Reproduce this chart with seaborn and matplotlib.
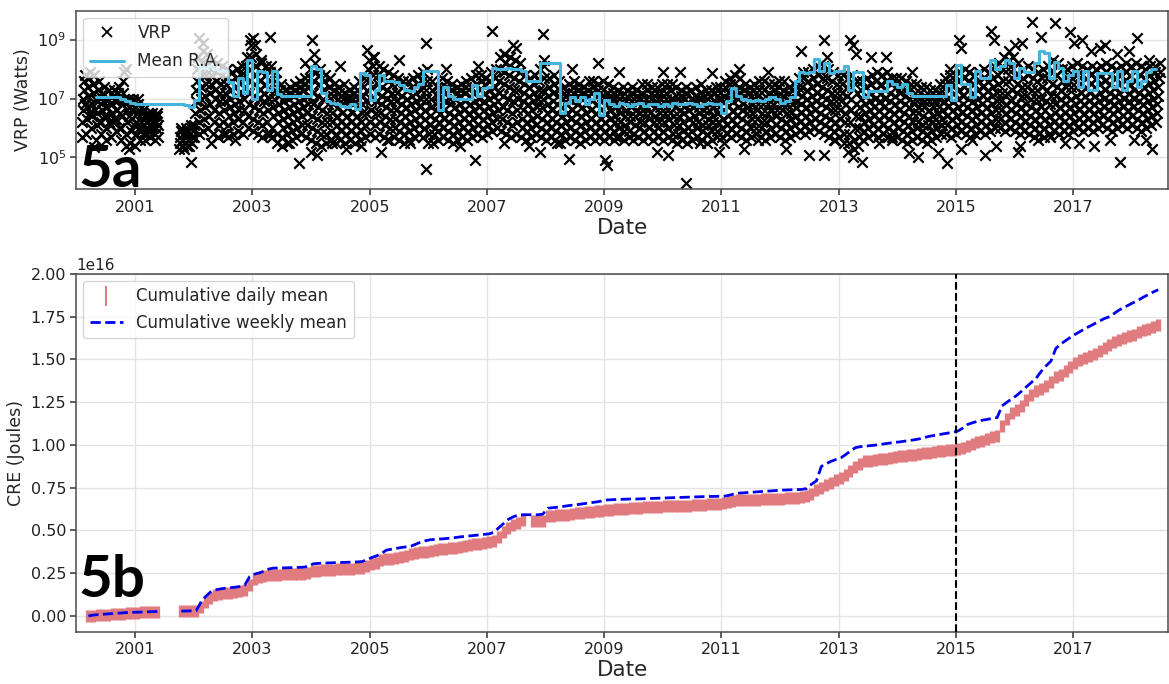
import numpy as np
import pandas as pd
import matplotlib
matplotlib.use("Agg")
import matplotlib.pyplot as plt
import matplotlib.dates as mdates
from matplotlib.ticker import FixedLocator, NullLocator, LogFormatterMathtext
from matplotlib.lines import Line2D
import seaborn as sns

nan = np.nan

# ---------------- Panel 5a: VRP observations (log10(W) x 10), 8 per month ----------------
VRP_DAYS = [2, 5, 9, 12, 16, 19, 23, 26]

vrp_2000 = """
02: 57 62 66 70 73 76 78 68
03: 58 63 67 71 74 77 79 65
04: 60 64 68 72 75 78 66 70
05: 56 61 65 69 73 76 62 71
06: 58 62 66 69 72 74 64 67
07: 56 60 64 67 70 73 62 68
08: 57 61 65 68 71 73 63 69
09: 59 63 66 69 72 74 60 65
10: 56 60 64 68 72 76 79 70
11: 54 58 62 66 69 70 64 67
12: 55 59 63 66 69 70 61 67
"""
vrp_2001 = """
01: 54 58 62 65 68 70 60 66
02: 56 59 62 65 66 58 61 64
03: 56 58 60 62 64 65 59 63
04: 57 59 61 63 65 60 62 64
05: 56 58 60 62 64 65 57 61
06: -
07: -
08: -
09: -
10: 53 55 57 59 60 56 54 58
11: 53 55 57 58 60 54 56 59
12: 54 56 58 60 61 55 57 59
"""
vrp_2002 = """
01: 57 61 65 69 73 76 80 84
02: 58 62 66 70 74 78 82 86
03: 59 63 67 71 75 78 81 85
04: 60 64 68 72 75 78 80 83
05: 58 62 66 70 73 76 79 82
06: 57 61 65 69 72 75 78 81
07: 58 62 66 69 72 75 77 80
08: 57 61 64 67 70 73 76 79
09: 58 62 65 68 71 74 77 80
10: 59 63 66 69 72 75 78 81
11: 58 62 66 70 74 78 81 84
12: 60 64 68 72 76 80 84 88
"""
vrp_2003 = """
01: 59 63 67 71 75 78 81 85
02: 58 62 66 70 73 76 79 82
03: 57 61 65 69 72 75 78 81
04: 58 62 66 70 73 76 79 81
05: 57 60 64 67 70 73 76 79
06: 55 58 62 65 68 71 73 75
07: 54 57 60 63 66 69 71 73
08: 55 58 61 64 67 70 72 74
09: 56 59 62 65 68 71 73 75
10: 57 60 63 66 69 72 74 76
11: 58 61 64 67 70 73 75 77
12: 57 61 65 68 71 74 77 80
"""
vrp_2004 = """
01: 56 60 64 68 72 76 79 82
02: 55 59 63 67 71 75 78 80
03: 54 58 62 66 70 73 76 78
04: 55 58 62 65 68 71 74 77
05: 56 59 62 65 68 71 73 75
06: 55 58 61 64 67 70 72 74
07: 56 59 62 65 68 70 72 75
08: 55 58 61 64 67 69 71 73
09: 56 59 62 65 68 70 72 74
10: 55 58 61 64 67 70 73 76
11: 56 59 62 65 68 71 74 77
12: 57 61 65 69 73 77 80 83
"""
vrp_2005 = """
01: 58 62 66 70 74 78 81 84
02: 57 61 65 69 72 75 78 81
03: 58 62 65 68 71 74 77 80
04: 57 61 64 67 70 73 76 79
05: 56 60 63 66 69 72 75 78
06: 57 60 63 66 69 72 75 77
07: 56 59 62 65 68 71 74 76
08: 55 58 61 64 67 70 73 76
09: 56 59 62 65 68 71 74 77
10: 57 60 63 66 69 72 75 78
11: 58 61 64 67 70 73 76 79
12: 57 60 63 66 70 73 76 80
"""
vrp_2006 = """
01: 55 58 61 64 67 70 73 76
02: 55 58 60 63 66 68 71 74
03: 56 59 62 65 68 71 74 77
04: 57 60 63 66 69 72 74 76
05: 56 59 62 65 68 70 73 75
06: 55 58 61 64 67 70 72 74
07: 56 59 62 65 68 71 73 75
08: 57 60 63 66 69 72 74 76
09: 56 59 62 65 68 71 74 77
10: 57 60 63 66 69 72 75 78
11: 58 61 64 67 70 73 76 78
12: 57 60 63 66 69 72 75 77
"""
vrp_2007 = """
01: 58 61 64 67 70 73 76 79
02: 59 62 65 68 71 74 77 80
03: 60 63 66 69 72 76 80 84
04: 59 63 67 71 75 79 82 85
05: 58 62 66 70 74 78 81 84
06: 57 61 65 69 73 77 80 83
07: 58 62 66 70 73 76 79 82
08: 57 60 63 66 69 72 75 78
09: 56 59 62 65 68 71 74 77
10: 57 60 63 66 69 72 75 78
11: 58 61 64 67 70 73 76 80
12: 57 60 63 67 70 73 77 81
"""
vrp_2008 = """
01: 56 59 62 65 68 71 74 77
02: 57 60 63 66 69 72 75 78
03: 56 59 62 65 68 71 73 76
04: 55 58 61 64 67 70 72 74
05: 56 59 62 65 68 70 72 75
06: 57 60 63 66 69 72 74 76
07: 56 59 62 65 68 71 73 75
08: 55 58 61 64 67 70 72 74
09: 56 59 62 65 68 71 73 76
10: 57 60 63 66 69 72 74 76
11: 56 59 62 65 68 71 73 75
12: 57 60 63 66 69 71 73 76
"""
vrp_2009 = """
01: 56 59 62 65 68 70 72 75
02: 57 60 63 66 68 70 72 74
03: 56 59 62 64 67 69 71 73
04: 57 60 62 65 67 69 71 74
05: 56 59 61 64 66 69 71 73
06: 57 59 62 64 67 69 72 74
07: 56 58 61 64 66 69 71 73
08: 57 60 62 65 67 70 72 75
09: 56 59 62 65 67 70 73 75
10: 57 60 63 65 68 70 72 74
11: 56 59 62 64 67 69 72 74
12: 57 60 62 65 67 70 72 75
"""
vrp_2010 = """
01: 56 59 62 65 68 70 72 75
02: 57 60 63 65 68 70 73 75
03: 56 58 61 64 67 69 71 74
04: 55 58 61 64 66 69 71 73
05: 56 59 62 65 67 70 72 74
06: 55 58 60 63 66 68 70 73
07: 56 59 62 64 67 69 71 74
08: 57 60 62 65 67 70 72 75
09: 56 59 61 64 66 69 71 73
10: 55 58 61 63 66 68 71 73
11: 56 59 62 64 67 69 72 74
12: 57 59 62 65 67 70 72 74
"""
vrp_2011 = """
01: 57 60 63 66 69 71 74 76
02: 58 61 64 67 70 72 75 77
03: 57 60 63 66 69 72 75 78
04: 58 61 64 67 70 72 74 77
05: 57 60 63 66 68 71 73 75
06: 56 59 62 65 67 70 72 74
07: 57 60 63 65 68 70 73 75
08: 58 60 63 66 68 71 73 76
09: 57 60 62 65 68 70 73 76
10: 56 59 62 65 68 70 72 75
11: 57 60 63 66 68 71 73 75
12: 58 61 64 66 69 71 74 76
"""
vrp_2012 = """
01: 57 60 63 66 68 71 73 76
02: 56 59 62 65 68 70 72 74
03: 57 60 63 65 68 70 73 75
04: 58 61 64 67 69 72 74 77
05: 59 62 65 68 71 74 77 79
06: 58 61 64 67 70 73 76 79
07: 59 62 65 68 71 74 77 80
08: 60 63 66 69 72 75 78 81
09: 59 62 65 68 71 74 77 81
10: 58 61 64 67 70 73 77 80
11: 57 60 63 66 69 72 76 79
12: 56 59 62 66 69 72 75 78
"""
vrp_2013 = """
01: 57 60 63 66 69 72 75 78
02: 55 58 62 65 68 71 74 77
03: 52 55 58 62 66 70 74 78
04: 50 53 56 60 64 68 72 76
05: 54 57 60 64 67 70 73 76
06: 56 59 62 65 68 71 74 77
07: 57 60 63 66 69 72 75 78
08: 58 61 64 67 70 73 76 79
09: 57 60 63 66 69 72 75 78
10: 58 61 64 67 70 73 76 79
11: 57 60 63 66 69 72 75 77
12: 56 59 62 65 68 71 74 77
"""
vrp_2014 = """
01: 57 60 63 66 69 72 74 77
02: 56 59 62 65 68 71 73 76
03: 55 58 61 64 67 70 73 75
04: 56 59 62 65 68 70 72 75
05: 57 60 62 65 67 70 72 74
06: 56 59 61 64 67 69 71 74
07: 55 58 61 63 66 69 71 73
08: 56 59 62 64 67 69 71 73
09: 57 60 62 65 67 70 72 75
10: 58 61 63 66 69 72 75 77
11: 58 61 64 67 70 73 75 78
12: 57 60 63 66 69 72 75 78
"""
vrp_2015 = """
01: 58 61 64 67 70 73 76 79
02: 59 62 65 68 71 74 77 80
03: 58 61 64 67 70 73 76 79
04: 57 60 63 66 69 72 75 78
05: 58 61 64 67 70 73 76 79
06: 59 62 65 68 71 74 77 80
07: 58 61 64 67 70 73 76 79
08: 59 62 65 68 71 74 77 81
09: 60 63 66 69 72 75 78 82
10: 60 63 66 69 72 76 80 84
11: 59 62 65 68 72 76 80 83
12: 60 63 66 69 73 77 80 84
"""
vrp_2016 = """
01: 59 62 65 68 72 75 78 82
02: 58 61 64 67 71 74 77 80
03: 59 62 65 68 71 74 78 81
04: 58 61 64 67 70 73 77 80
05: 57 60 63 66 70 73 76 79
06: 58 61 64 67 70 74 77 80
07: 57 60 63 66 69 73 77 81
08: 58 61 64 68 71 75 79 83
09: 59 62 65 68 71 74 78 82
10: 58 61 64 67 70 73 76 80
11: 59 62 65 68 71 74 77 80
12: 58 61 64 67 70 74 77 81
"""
vrp_2017 = """
01: 59 62 65 68 71 74 78 82
02: 60 63 66 69 72 75 78 81
03: 59 62 65 68 71 74 77 80
04: 60 63 66 69 72 75 78 81
05: 59 62 65 68 71 74 77 80
06: 60 63 66 69 72 75 78 81
07: 61 64 67 70 73 76 79 82
08: 60 63 66 69 72 75 78 81
09: 59 62 65 68 71 74 77 80
10: 60 63 66 69 72 75 78 81
11: 61 64 67 70 73 76 79 82
12: 60 63 66 69 72 75 78 81
"""
vrp_2018 = """
01: 61 64 67 70 73 76 79 82
02: 60 63 66 69 72 75 78 81
03: 59 62 65 68 71 74 77 80
04: 60 63 66 69 72 75 78 81
05: 61 64 67 70 73 76 79 81
06: 62 65 68 71 74 77 79 82
"""

vrp_outlier_dates = [
    "2000-11-05", "2002-02-05", "2002-02-25", "2002-12-15", "2003-01-03", "2003-01-20",
    "2003-04-20", "2003-02-25", "2003-11-25", "2004-01-08", "2004-01-20", "2004-07-01",
    "2004-12-15", "2005-01-20", "2005-07-01", "2005-12-15", "2006-04-20", "2006-11-05",
    "2007-02-05", "2007-04-20", "2007-06-15", "2007-07-01", "2007-12-15", "2007-12-22",
    "2008-06-15", "2008-11-25", "2009-04-01", "2010-01-05", "2010-04-20", "2010-11-05",
    "2011-04-20", "2011-10-20", "2012-05-08", "2012-10-01", "2012-10-20", "2013-03-15",
    "2013-04-01", "2013-04-20", "2013-07-20", "2013-10-20", "2014-04-01", "2014-11-25",
    "2015-01-20", "2015-02-05", "2015-08-08", "2015-08-25", "2015-11-25", "2016-01-03",
    "2016-02-15", "2016-04-20", "2016-06-15", "2016-09-10", "2016-12-15", "2017-01-03",
    "2017-02-25", "2017-04-20", "2017-06-15", "2017-07-20", "2017-10-01", "2017-12-15",
    "2018-02-05", "2018-04-20",
    "2000-04-20", "2000-11-25", "2001-12-15", "2002-04-20", "2002-07-20", "2003-04-20",
    "2003-10-20", "2004-01-03", "2004-02-05", "2004-08-08", "2004-11-05", "2005-03-15",
    "2005-04-20", "2005-12-15", "2006-10-20", "2007-04-20", "2007-11-25", "2008-05-25",
    "2009-01-03", "2009-01-20", "2009-11-25", "2010-02-05", "2010-05-25", "2010-12-15",
    "2011-05-25", "2012-02-05", "2012-07-01", "2012-10-01", "2013-05-25", "2013-09-10",
    "2014-03-15", "2014-05-08", "2014-09-10", "2014-11-05", "2015-02-05", "2015-07-01",
    "2015-09-10", "2016-01-20", "2016-02-05", "2016-05-25", "2017-02-05", "2017-05-08",
    "2017-10-20", "2018-04-01", "2018-05-08",
    "2002-09-15", "2003-08-15", "2005-09-10", "2006-07-15", "2008-03-10", "2009-03-15",
    "2010-08-20", "2011-08-15", "2012-12-10", "2013-12-01", "2015-04-10", "2016-08-10",
    "2017-08-20", "2018-01-15", "2004-05-10", "2011-01-20", "2007-09-20", "2016-11-10",
]
vrp_outlier_log10 = [
    8.0, 9.05, 8.9, 9.0, 9.05, 8.8, 9.1, 8.3, 8.2, 9.0, 8.5, 8.1,
    8.65, 8.4, 8.3, 8.9, 8.0, 8.1, 9.3, 8.5, 8.8, 8.7, 9.2, 8.3,
    8.0, 8.2, 7.9, 7.9, 7.9, 7.85, 8.0, 7.9, 8.6, 9.0, 8.4, 9.0,
    8.8, 8.5, 8.4, 8.4, 7.9, 8.0, 9.0, 8.7, 9.3, 9.0, 8.6, 8.8,
    8.9, 9.6, 9.1, 9.55, 9.25, 8.9, 9.0, 8.6, 8.7, 8.8, 8.5, 8.6,
    9.05, 8.3,
    5.35, 5.3, 4.85, 5.5, 5.8, 5.8, 4.8, 5.2, 5.1, 5.3, 5.4, 5.2,
    5.6, 4.6, 4.9, 5.5, 5.2, 4.95, 4.9, 4.75, 5.2, 5.1, 4.15, 5.2,
    5.3, 5.3, 5.1, 5.1, 4.85, 5.5, 5.15, 5.0, 5.15, 4.8, 5.3, 5.1,
    5.4, 5.2, 5.4, 5.6, 5.5, 5.4, 4.85, 5.6, 5.3,
    5.6, 5.5, 5.5, 5.4, 5.5, 5.7, 5.5, 5.6, 5.6, 5.7, 5.6, 5.7,
    5.6, 5.6, 5.5, 5.5, 5.4, 5.5,
]

# Mean running average (log10 W), monthly from 2000-05
ra_2000_2005 = [
    7.05, 7.05, 7.05, 7.05, 7.05, 7.0, 6.9, 6.85,
    6.82, 6.8, 6.8, 6.8, 6.8, 6.8, 6.8, 6.8, 6.8, 6.8, 6.78, 6.72,
    6.95, 8.1, 8.05, 8.1, 8.0, 7.95, 7.95, 7.55, 7.1, 7.7, 7.2, 8.3,
    7.0, 7.95, 7.9, 7.3, 7.95, 7.15, 7.1, 7.1, 7.1, 7.1, 7.1, 7.1,
    8.1, 8.0, 7.2, 6.9, 6.85, 6.8, 6.75, 6.7, 6.8, 6.65, 7.85, 7.8,
    6.95, 7.3, 7.8, 7.6, 7.6, 7.55, 7.45, 7.3, 7.25, 7.4, 7.5, 7.95,
]
ra_2006_2011 = [
    7.95, 7.95, 6.6, 7.4, 7.1, 7.0, 7.0, 7.0, 7.0, 7.45, 7.1, 7.35,
    7.4, 8.05, 8.0, 8.0, 8.05, 8.0, 8.0, 7.95, 7.6, 7.6, 7.6, 8.2,
    8.2, 8.2, 8.2, 6.5, 6.85, 7.05, 6.9, 7.05, 6.8, 7.0, 7.2, 6.45,
    6.95, 6.8, 6.75, 6.85, 6.8, 6.75, 6.8, 6.85, 6.75, 6.8, 6.8, 6.75,
    6.8, 6.75, 6.85, 6.8, 6.8, 6.85, 6.8, 6.75, 6.8, 6.85, 6.8, 6.8,
    6.5, 6.9, 7.35, 7.1, 7.0, 6.95, 6.9, 6.95, 6.9, 7.0, 7.05, 7.0,
]
ra_2012_2018 = [
    6.85, 6.9, 7.05, 7.6, 7.9, 7.85, 7.9, 8.35, 7.95, 8.2, 7.85, 7.95,
    7.95, 8.1, 7.3, 7.9, 7.9, 7.05, 7.25, 7.25, 7.25, 7.25, 7.6, 7.5,
    7.4, 7.5, 7.2, 7.1, 7.1, 7.1, 7.1, 7.1, 7.1, 7.1, 7.45, 6.95,
    8.15, 7.5, 7.5, 7.05, 7.95, 7.7, 7.7, 8.3, 8.0, 8.1, 8.3, 8.2,
    7.7, 8.05, 7.9, 7.9, 8.2, 8.6, 8.55, 7.7, 8.25, 8.05, 7.6, 7.8,
    7.95, 7.4, 7.95, 7.3, 7.3, 7.85, 7.85, 7.85, 7.4, 7.95, 7.3, 7.6,
    7.95, 7.4, 7.6, 7.9, 8.0, 8.0,
]

# ---------------- Panel 5b: cumulative energy (units of 1e16 J), monthly from 2000-02 ----------------
daily_2000_2005 = [
    nan, 0.000, 0.002, 0.004, 0.006, 0.008, 0.010, 0.012, 0.014, 0.016, 0.018,
    0.020, 0.021, 0.022, 0.023, 0.024, nan, nan, nan, nan, 0.026, 0.027, 0.028,
    0.030, 0.050, 0.080, 0.105, 0.123, 0.130, 0.134, 0.137, 0.140, 0.143, 0.150, 0.180,
    0.215, 0.225, 0.232, 0.240, 0.241, 0.242, 0.243, 0.244, 0.245, 0.246, 0.247, 0.250,
    0.262, 0.264, 0.266, 0.268, 0.270, 0.272, 0.273, 0.274, 0.276, 0.278, 0.280, 0.290,
    0.305, 0.312, 0.325, 0.333, 0.336, 0.338, 0.345, 0.352, 0.360, 0.367, 0.372, 0.376,
]
daily_2006_2011 = [
    0.380, 0.385, 0.390, 0.393, 0.396, 0.400, 0.406, 0.410, 0.414, 0.418, 0.422, 0.426,
    0.430, 0.440, 0.460, 0.490, 0.515, 0.530, 0.545, 0.560, nan, 0.553, 0.553, 0.555,
    0.582, 0.585, 0.588, 0.590, 0.593, 0.596, 0.600, 0.603, 0.606, 0.609, 0.612, 0.616,
    0.620, 0.622, 0.624, 0.626, 0.628, 0.630, 0.632, 0.634, 0.636, 0.637, 0.638, 0.640,
    0.641, 0.642, 0.643, 0.644, 0.645, 0.646, 0.647, 0.648, 0.650, 0.652, 0.654, 0.656,
    0.660, 0.665, 0.672, 0.676, 0.678, 0.679, 0.680, 0.681, 0.682, 0.683, 0.684, 0.685,
]
daily_2012_2018 = [
    0.686, 0.687, 0.688, 0.690, 0.693, 0.700, 0.715, 0.735, 0.748, 0.765, 0.780, 0.795,
    0.805, 0.825, 0.848, 0.870, 0.890, 0.905, 0.908, 0.912, 0.916, 0.920, 0.925, 0.930,
    0.934, 0.937, 0.940, 0.944, 0.948, 0.952, 0.956, 0.959, 0.962, 0.965, 0.968, 0.971,
    0.975, 0.985, 0.995, 1.005, 1.015, 1.025, 1.035, 1.045, 1.055, 1.110, 1.150, 1.185,
    1.205, 1.230, 1.265, 1.295, 1.315, 1.330, 1.345, 1.370, 1.395, 1.410, 1.430, 1.455,
    1.480, 1.495, 1.510, 1.520, 1.535, 1.550, 1.570, 1.585, 1.600, 1.612, 1.625, 1.635,
    1.645, 1.658, 1.670, 1.680, 1.690, 1.700,
]
weekly_2000_2005 = [
    nan, 0.000, 0.005, 0.008, 0.010, 0.012, 0.014, 0.016, 0.018, 0.020, 0.021,
    0.022, 0.023, 0.024, 0.025, 0.026, 0.027, nan, nan, nan, 0.028, 0.029, 0.030,
    0.030, 0.080, 0.113, 0.140, 0.152, 0.158, 0.162, 0.165, 0.168, 0.172, 0.180, 0.230,
    0.245, 0.252, 0.262, 0.275, 0.280, 0.280, 0.281, 0.282, 0.283, 0.284, 0.285, 0.290,
    0.305, 0.307, 0.309, 0.310, 0.311, 0.312, 0.313, 0.314, 0.315, 0.316, 0.318, 0.330,
    0.342, 0.352, 0.365, 0.385, 0.390, 0.395, 0.400, 0.404, 0.408, 0.420, 0.432, 0.440,
]
weekly_2006_2011 = [
    0.446, 0.448, 0.450, 0.452, 0.455, 0.458, 0.462, 0.465, 0.468, 0.471, 0.474, 0.477,
    0.480, 0.490, 0.515, 0.540, 0.565, 0.580, 0.590, 0.592, 0.592, 0.592, 0.592, 0.595,
    0.630, 0.633, 0.636, 0.640, 0.644, 0.648, 0.651, 0.655, 0.659, 0.663, 0.667, 0.672,
    0.678, 0.680, 0.681, 0.682, 0.683, 0.684, 0.684, 0.685, 0.686, 0.687, 0.688, 0.689,
    0.690, 0.691, 0.692, 0.693, 0.694, 0.695, 0.696, 0.697, 0.698, 0.699, 0.699, 0.700,
    0.700, 0.705, 0.712, 0.718, 0.720, 0.722, 0.724, 0.726, 0.728, 0.730, 0.732, 0.734,
]
weekly_2012_2018 = [
    0.736, 0.737, 0.738, 0.739, 0.740, 0.745, 0.770, 0.790, 0.875, 0.890, 0.905, 0.915,
    0.925, 0.945, 0.965, 0.984, 0.990, 0.993, 0.996, 0.999, 1.003, 1.007, 1.011, 1.015,
    1.018, 1.022, 1.026, 1.030, 1.035, 1.042, 1.050, 1.055, 1.060, 1.065, 1.070, 1.075,
    1.082, 1.100, 1.120, 1.130, 1.138, 1.145, 1.150, 1.155, 1.160, 1.228, 1.250, 1.270,
    1.290, 1.315, 1.340, 1.365, 1.390, 1.430, 1.462, 1.490, 1.565, 1.590, 1.610, 1.630,
    1.648, 1.665, 1.680, 1.695, 1.710, 1.725, 1.740, 1.750, 1.770, 1.790, 1.805, 1.820,
    1.834, 1.850, 1.865, 1.880, 1.895, 1.908,
]

year_ticks = [2001, 2003, 2005, 2007, 2009, 2011, 2013, 2015, 2017]
cre_ticks = [0.00, 0.25, 0.50, 0.75, 1.00, 1.25, 1.50, 1.75, 2.00]
vrp_ticks = [1e5, 1e7, 1e9]
eruption_marker = "2015-01-01"

# ---------------- build tables ----------------
vrp_rows = []
for yr, block in [(2000, vrp_2000), (2001, vrp_2001), (2002, vrp_2002), (2003, vrp_2003),
                  (2004, vrp_2004), (2005, vrp_2005), (2006, vrp_2006), (2007, vrp_2007),
                  (2008, vrp_2008), (2009, vrp_2009), (2010, vrp_2010), (2011, vrp_2011),
                  (2012, vrp_2012), (2013, vrp_2013), (2014, vrp_2014), (2015, vrp_2015),
                  (2016, vrp_2016), (2017, vrp_2017), (2018, vrp_2018)]:
    for line in block.strip().splitlines():
        mon, vals = line.split(":")
        if vals.strip() == "-":
            continue
        for d, v in zip(VRP_DAYS, vals.split()):
            vrp_rows.append((pd.Timestamp(yr, int(mon), d), 10 ** (int(v) / 10)))
for d, v in zip(vrp_outlier_dates, vrp_outlier_log10):
    vrp_rows.append((pd.Timestamp(d), 10 ** v))
vrp_df = pd.DataFrame(vrp_rows, columns=["date", "vrp"])

ra_vals = ra_2000_2005 + ra_2006_2011 + ra_2012_2018
ra_df = pd.DataFrame({
    "date": pd.date_range("2000-05-01", periods=len(ra_vals), freq="MS"),
    "ra": [10 ** v for v in ra_vals],
})

daily = daily_2000_2005 + daily_2006_2011 + daily_2012_2018
weekly = weekly_2000_2005 + weekly_2006_2011 + weekly_2012_2018
cre_dates = pd.date_range("2000-02-01", periods=len(daily), freq="MS") + pd.Timedelta(days=14)
daily_df = pd.DataFrame({"date": cre_dates, "cre": np.array(daily) * 1e16}).dropna()
weekly_df = pd.DataFrame({"date": cre_dates, "cre": np.array(weekly) * 1e16})
weekly_df["seg"] = weekly_df["cre"].isna().cumsum()
weekly_df = weekly_df.dropna()

# ---------------- style ----------------
sns.set_theme(style="ticks", rc={
    "axes.grid": True,
    "grid.color": "#e4e4e4",
    "grid.linewidth": 1.0,
    "axes.edgecolor": "#4a4a4a",
    "axes.linewidth": 1.1,
    "xtick.color": "#4a4a4a",
    "ytick.color": "#4a4a4a",
    "xtick.labelcolor": "#222222",
    "ytick.labelcolor": "#222222",
    "xtick.major.size": 4,
    "ytick.major.size": 4,
})
plt.rcParams["font.family"] = ["DejaVu Sans"]

PINK = "#e07c80"
SKY = "#45b5dc"
xlim = (pd.Timestamp("2000-01-01"), pd.Timestamp("2018-08-15"))

fig = plt.figure(figsize=(11.69, 6.84), dpi=100)
ax1 = fig.add_axes([0.0654, 0.7232, 0.9338, 0.2611])
ax2 = fig.add_axes([0.0654, 0.0760, 0.9338, 0.5234])

# ---- 5a ----
sns.scatterplot(data=vrp_df, x="date", y="vrp", marker="x", color="black",
                s=56, linewidth=1.6, ax=ax1, legend=False, zorder=2)
sns.lineplot(data=ra_df, x="date", y="ra", color=SKY, linewidth=2.2,
             drawstyle="steps-post", estimator=None, ax=ax1, legend=False, zorder=3)
ax1.set_yscale("log")
ax1.set_ylim(8.3e3, 9.5e9)
ax1.yaxis.set_major_locator(FixedLocator(vrp_ticks))
ax1.yaxis.set_major_formatter(LogFormatterMathtext())
ax1.yaxis.set_minor_locator(NullLocator())
ax1.set_ylabel("VRP (Watts)", fontsize=12.5)
h1 = [Line2D([], [], marker="x", ls="none", color="black", markersize=7.5, mew=1.3),
      Line2D([], [], color=SKY, lw=2.2)]
ax1.legend(h1, ["VRP", "Mean R.A."], loc="upper left", fontsize=12.2,
           borderaxespad=0.4, handlelength=2.0, labelspacing=0.6)
ax1.text(0.002, 0.015, "5a", transform=ax1.transAxes, fontsize=42, fontweight="bold",
         family="Lato", ha="left", va="baseline", color="black", zorder=10)

# ---- 5b ----
sns.scatterplot(data=daily_df, x="date", y="cre", marker="|", color=PINK,
                s=85, linewidth=3.8, ax=ax2, legend=False, zorder=2)
sns.lineplot(data=weekly_df, x="date", y="cre", units="seg", estimator=None,
             color="#0000ee", linewidth=2.0, linestyle="--", ax=ax2, legend=False, zorder=3)
ax2.axvline(pd.Timestamp(eruption_marker), color="black", linestyle="--", linewidth=1.5, zorder=4)
ax2.set_ylim(-0.094e16, 2.0e16)
ax2.yaxis.set_major_locator(FixedLocator([t * 1e16 for t in cre_ticks]))
ax2.set_ylabel("CRE (Joules)", fontsize=12.5)
h2 = [Line2D([], [], marker="|", ls="none", color=PINK, markersize=14, mew=1.5),
      Line2D([], [], color="#0000ee", lw=2.0, ls="--")]
ax2.legend(h2, ["Cumulative daily mean", "Cumulative weekly mean"], loc="upper left",
           fontsize=12, borderaxespad=0.4, handlelength=2.0)
ax2.text(0.002, 0.098, "5b", transform=ax2.transAxes, fontsize=42, fontweight="bold",
         family="Lato", ha="left", va="baseline", color="black", zorder=10)

for ax in (ax1, ax2):
    ax.set_xlim(*xlim)
    ax.xaxis.set_major_locator(FixedLocator([mdates.date2num(pd.Timestamp(f"{y}-01-01")) for y in year_ticks]))
    ax.xaxis.set_major_formatter(mdates.DateFormatter("%Y"))
    ax.xaxis.set_minor_locator(NullLocator())
    ax.tick_params(axis="both", labelsize=11.5)
    ax.set_xlabel("Date", fontsize=15.5, labelpad=2)
    for sp in ax.spines.values():
        sp.set_visible(True)

fig.savefig("out.png", dpi=100)
